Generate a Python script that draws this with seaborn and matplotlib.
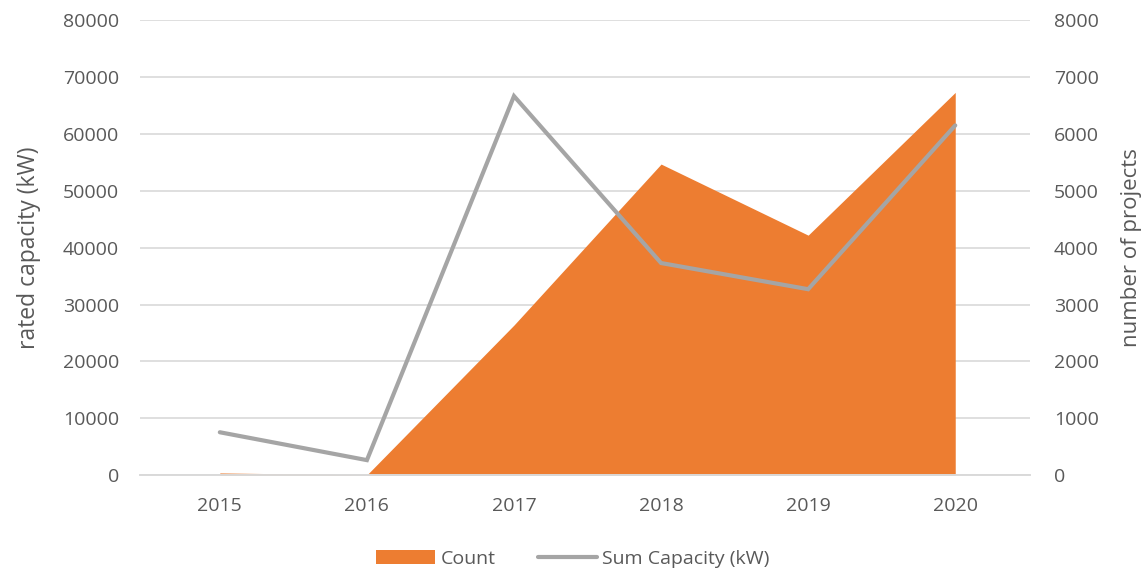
import matplotlib.pyplot as plt
import numpy as np
import pandas as pd
import seaborn as sns
from matplotlib.patches import Patch
from matplotlib.lines import Line2D

years = ["2015", "2016", "2017", "2018", "2019", "2020"]
sum_capacity = [7550, 2650, 66650, 37300, 32700, 61500]
project_count = [40, 5, 2640, 5470, 4220, 6730]

ORANGE = "#ed7d31"
GREY = "#a5a5a5"
TEXT = "#595959"

sns.set_theme(style="white")
plt.rcParams["font.family"] = ["Open Sans", "DejaVu Sans"]

df = pd.DataFrame({"year": years, "capacity": sum_capacity, "count": project_count})

fig = plt.figure(figsize=(11.46, 5.76), dpi=100)
ax1 = fig.add_axes([0.122, 0.175, 0.777, 0.79])
ax2 = ax1.twinx()

# area (right axis, number of projects)
x = np.arange(len(years))
ax2.fill_between(x, df["count"], color=ORANGE, linewidth=0, zorder=2)
ax2.set_ylim(0, 8000)
ax2.set_yticks(np.arange(0, 8001, 1000))
ax2.yaxis.grid(True, color="#d9d9d9", linewidth=1.2, zorder=0)
ax2.set_axisbelow(True)

# line (left axis, rated capacity) drawn on top
ax1.set_zorder(ax2.get_zorder() + 1)
ax1.patch.set_visible(False)
sns.lineplot(data=df, x="year", y="capacity", ax=ax1, color=GREY, linewidth=3,
             solid_capstyle="round", solid_joinstyle="miter", sort=False)
ax1.set_ylim(0, 80000)
ax1.set_yticks(np.arange(0, 80001, 10000))
ax1.set_xlim(-0.544, 5.51)
ax1.set_xlabel("")
ax1.set_ylabel("rated capacity (kW)", fontsize=16.5, color=TEXT, labelpad=16)
ax2.set_ylabel("number of projects", fontsize=16, color=TEXT, labelpad=16)

for ax in (ax1, ax2):
    for side in ("top", "left", "right"):
        ax.spines[side].set_visible(False)
    ax.spines["bottom"].set_color("#d9d9d9")
    ax.spines["bottom"].set_linewidth(1.2)
    ax.tick_params(axis="both", length=0, labelsize=14, colors=TEXT)
ax1.tick_params(axis="y", pad=15)
ax2.tick_params(axis="y", pad=17)
ax1.tick_params(axis="x", pad=16)

handles = [Patch(facecolor=ORANGE, edgecolor="none"),
           Line2D([0], [0], color=GREY, linewidth=3, solid_capstyle="round")]
fig.legend(handles, ["Count", "Sum Capacity (kW)"], loc="center", bbox_to_anchor=(0.5, 0.03),
           ncol=2, frameon=False, fontsize=14, labelcolor=TEXT, handlelength=3.0,
           handleheight=0.8, columnspacing=2.2, handletextpad=0.3)

fig.savefig("out.png", dpi=100)
